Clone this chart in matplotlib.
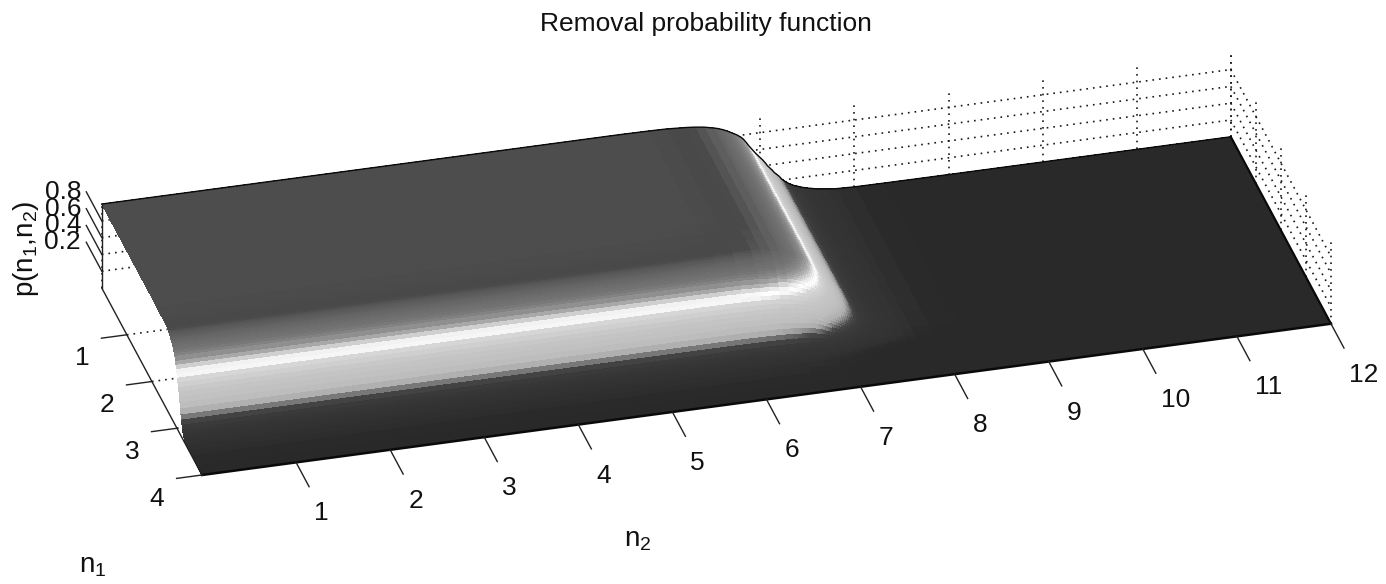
import numpy as np
import matplotlib
matplotlib.use("Agg")
import matplotlib.pyplot as plt
from matplotlib.colors import LinearSegmentedColormap, Normalize
from mpl_toolkits.mplot3d import proj3d

plt.rcParams['font.family'] = ['Liberation Sans', 'DejaVu Sans']
plt.rcParams['mathtext.default'] = 'regular'

# values
n1_samples = [0, .5, 1, 1.5, 2, 2.2, 2.4, 2.5, 2.55,
              2.60, 2.62, 2.64, 2.66, 2.68, 2.70, 2.72, 2.74, 2.76, 2.78, 2.80, 2.82, 2.84, 2.86, 2.88, 2.90,
              2.92, 2.94, 2.96, 2.98, 3.00, 3.02, 3.04, 3.06, 3.08, 3.10, 3.12, 3.14, 3.16, 3.18, 3.20, 3.22,
              3.24, 3.26, 3.28, 3.30, 3.35, 3.4, 3.5, 3.6, 3.8, 4.0]
p_n1 = [1, 1, 1, 1, 1, .997, .993, .99, .988,
        .985, .98, .975, .968, .96, .953, .945, .938, .93, .92, .91, .898, .885, .868, .85, .83,
        .81, .775, .74, .70, .66, .62, .577, .53, .485, .435, .38, .32, .26, .21, .16, .12,
        .08, .06, .042, .03, .02, .012, .008, .005, .002, 0]
n2_samples = [0, 1, 2, 3, 4, 5, 5.5, 5.8, 6, 6.2, 6.3, 6.4,
              6.5, 6.525, 6.55, 6.575, 6.6, 6.625, 6.65, 6.675, 6.7, 6.725, 6.75, 6.775, 6.8, 6.825, 6.85, 6.875,
              6.9, 6.925, 6.95, 6.975, 7, 7.025, 7.05, 7.075, 7.1, 7.125, 7.15, 7.175, 7.2, 7.225, 7.25, 7.275,
              7.3, 7.35, 7.4, 7.45, 7.5, 7.6, 7.7, 7.8, 8, 8.3, 8.6, 9, 10, 11, 12]
p_n2 = [1, 1, 1, 1, 1, 1, 1, .997, .993, .98, .97, .955,
        .93, .923, .915, .905, .895, .883, .87, .855, .84, .825, .81, .79, .77, .74, .705, .665,
        .63, .595, .56, .53, .5, .47, .435, .395, .365, .335, .30, .275, .25, .215, .19, .17,
        .15, .12, .1, .08, .065, .04, .025, .012, .004, .002, .001, .0005, 0, 0, 0]
height_levels = [0, .004, .012, .03, .08, .15, .2, .24, .28, .35, .5, .6, .63, .66, .7, .75, .8, .85, .9, .93, .96, .975, .99, 1]
gray_levels = [.16, .17, .19, .2, .21, .23, .28, .5, .68, .74, .78, .84, .95, 1, .9, .68, .54, .46, .42, .39, .34, .29, .285, .3]
n1_ticks = [1, 2, 3, 4]
n2_ticks = list(range(1, 13))
z_ticks = [.2, .4, .6, .8]
z_tick_labels = ['0.2', '0.4', '0.6', '0.8']

N2, N1 = np.meshgrid(n2_samples, n1_samples)
Z = np.outer(p_n1, p_n2)

cmap = LinearSegmentedColormap.from_list(
    'removal', [(h, (g, g, g)) for h, g in zip(height_levels, gray_levels)], N=512)

W, H = 1386, 584
fig = plt.figure(figsize=(W / 100, H / 100), dpi=100)
S = 2600.0
ax = fig.add_axes([0, 0, S / W, S / H], projection='3d', proj_type='ortho', computed_zorder=False)
ax.view_init(elev=30, azim=-105)
ax.set_box_aspect((1, .3312, .083), zoom=.55)

dot = dict(color='#1a1a1a', lw=1.2, linestyle=(0, (1, 3)), zorder=1)
for z in z_ticks:
    ax.plot([0, 12], [0, 0], [z, z], **dot)
    ax.plot([12, 12], [0, 4], [z, z], **dot)
for n in range(0, 13):
    ax.plot([n, n], [0, 0], [0, 1], **dot)
for n in range(0, 5):
    ax.plot([12, 12], [n, n], [0, 1], **dot)
for n in n1_ticks[:-1]:
    ax.plot([0, 12], [n, n], [0, 0], **dot)

ax.plot_surface(N2, N1, Z, rstride=1, cstride=1, cmap=cmap, norm=Normalize(0, 1),
                linewidth=0, antialiased=False, zorder=2)

edge = dict(color='#0a0a0a', zorder=3)
ax.plot(n2_samples, [0] * len(n2_samples), p_n2, lw=1.0, **edge)
ax.plot([12, 12], [0, 4], [0, 0], lw=1.6, **edge)
ax.plot([0, 12], [4, 4], [0, 0], lw=1.8, **edge)

axis = dict(color='#222222', lw=1.0, zorder=4)
ax.plot([0, 0], [0, 0], [0, 1], **axis)
ax.plot([0, 0], [0, 4], [0, 0], **axis)
for n in n1_ticks:
    ax.plot([0, -.27], [n, n], [0, 0], **axis)
for n in n2_ticks:
    ax.plot([n, n], [4, 4.52], [0, 0], **axis)
for z in z_ticks:
    ax.plot([0, 0], [0, -.62], [z, z], **axis)

ax.set_xlim(0, 12)
ax.set_ylim(4, 0)
ax.set_zlim(0, 1)
ax.set_axis_off()


def screen(x, y, z):
    px, py, _ = proj3d.proj_transform(x, y, z, ax.get_proj())
    return ax.transData.transform((px, py))


# fit the projected plot box onto the canvas
A_t = np.array([202.0, H - 475.0])
B_t = np.array([1331.0, H - 324.0])
left, bottom = -600.0, -900.0
for _ in range(4):
    ax.set_position([left / W, bottom / H, S / W, S / H])
    ax.apply_aspect()
    A, B = screen(0, 4, 0), screen(12, 4, 0)
    S *= np.linalg.norm(B_t - A_t) / np.linalg.norm(B - A)
    ax.set_position([left / W, bottom / H, S / W, S / H])
    ax.apply_aspect()
    A = screen(0, 4, 0)
    left += A_t[0] - A[0]
    bottom += A_t[1] - A[1]
ax.set_position([left / W, bottom / H, S / W, S / H])
ax.apply_aspect()

ft = dict(fontsize=19, color='#111111', va='center')


def label(x, y, z, s, ha='center'):
    d = screen(x, y, z)
    fig.text(d[0] / W, d[1] / H, s, ha=ha, **ft)


for n in n1_ticks:
    label(-.571, n + .349, 0, str(n))
for n in n2_ticks:
    label(n - .092, 4 + 1.066, 0, str(n), ha='left')
for z, lab in zip(z_ticks, z_tick_labels):
    label(-.233, -.683, z, lab)

fig.text(706 / W, 1 - 24 / H, 'Removal probability function', ha='center', **ft)
big = dict(ha='center', fontsize=20, color='#111111', va='center')
fig.text(26 / W, 1 - 249 / H, 'p(n$_1$,n$_2$)', rotation=90, **big)
fig.text(638 / W, 1 - 540 / H, 'n$_2$', **big)
fig.text(93 / W, 1 - 566 / H, 'n$_1$', **big)

fig.savefig('out.png', dpi=100)
